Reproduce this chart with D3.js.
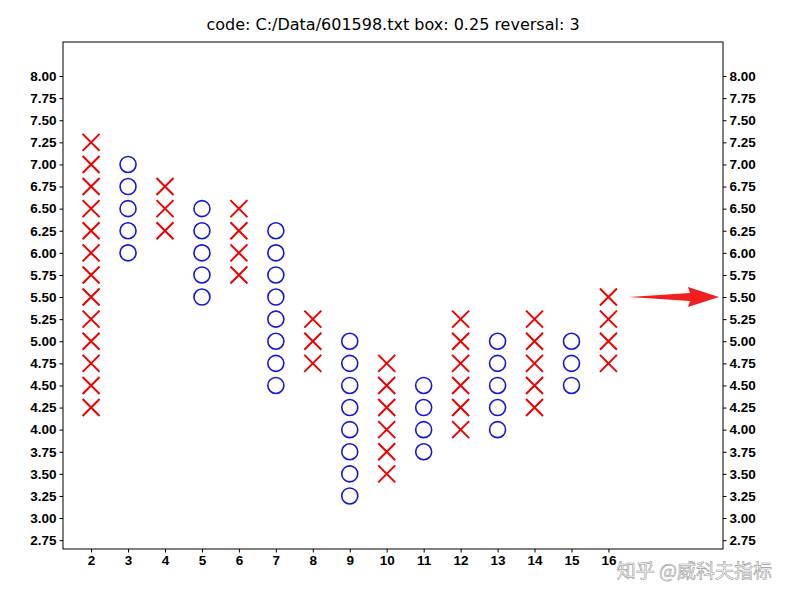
<!DOCTYPE html>
<html><head><meta charset="utf-8">
<script src="https://d3js.org/d3.v7.min.js"></script>
<style>body{margin:0;background:#fff}svg{font-family:"DejaVu Sans",sans-serif}</style>
</head><body><svg id="c" width="791" height="602"></svg>
<script>
// column index, type, low, high
var columns = [2,3,4,5,6,7,8,9,10,11,12,13,14,15,16];
var kinds   = ["X","O","X","O","X","O","X","O","X","O","X","O","X","O","X"];
var lows    = [4.25,6.00,6.25,5.50,5.75,4.50,4.75,3.25,3.50,3.75,4.00,4.00,4.25,4.50,4.75];
var highs   = [7.25,7.00,6.75,6.50,6.50,6.25,5.25,5.00,4.75,4.50,5.25,5.00,5.25,5.00,5.50];
var yTicks = d3.range(2.75, 8.01, 0.25);
var box = 0.25;

var svg = d3.select("#c");
var L = 63, R = 723, T = 42, B = 549;
var x = d3.scaleLinear().domain([1.24, 19.1]).range([L, R]);
var y = d3.scaleLinear().domain([2.65, 8.385]).range([B, T]);

svg.append("text").attr("x", (L + R) / 2).attr("y", 30).attr("text-anchor", "middle")
  .attr("font-size", 16).text("code: C:/Data/601598.txt box: 0.25 reversal: 3");

var fmt = d3.format(".2f");
svg.append("g").attr("transform", "translate(" + L + ",0)")
  .call(d3.axisLeft(y).tickValues(yTicks).tickFormat(fmt).tickSize(3.5));
svg.append("g").attr("transform", "translate(" + R + ",0)")
  .call(d3.axisRight(y).tickValues(yTicks).tickFormat(fmt).tickSize(3.5));
svg.append("g").attr("transform", "translate(0," + B + ")")
  .call(d3.axisBottom(x).tickValues(columns).tickFormat(d3.format("d")).tickSize(3.5));
svg.selectAll(".tick text").attr("font-size", 13.5).attr("font-weight", 600).attr("fill", "#000");
svg.selectAll(".domain").remove();
svg.append("rect").attr("x", L).attr("y", T).attr("width", R - L).attr("height", B - T)
  .attr("fill", "none").attr("stroke", "#000");

var h = 8.5;
columns.forEach(function(c, i) {
  var n = Math.round((highs[i] - lows[i]) / box);
  for (var k = 0; k <= n; k++) {
    var v = lows[i] + k * box, cx = x(c), cy = y(v);
    if (kinds[i] === "X") {
      svg.append("path").attr("d", "M" + (cx - h) + "," + (cy - h) + "L" + (cx + h) + "," + (cy + h) +
        "M" + (cx - h) + "," + (cy + h) + "L" + (cx + h) + "," + (cy - h))
        .attr("stroke", "#e00").attr("stroke-width", 2).attr("fill", "none");
    } else {
      svg.append("circle").attr("cx", cx).attr("cy", cy).attr("r", 8)
        .attr("stroke", "#1515e0").attr("stroke-width", 1.6).attr("fill", "none");
    }
  }
});

// arrow
var ay = y(5.5);
svg.append("path").attr("fill", "#f02020")
  .attr("d", "M629," + (ay) + "L690," + (ay - 4) + "L688," + (ay - 10) + "L719," + ay +
    "L688," + (ay + 10) + "L690," + (ay + 4) + "Z");

svg.append("text").attr("x", 772).attr("y", 578).attr("text-anchor", "end")
  .attr("font-family", "Noto Sans CJK SC").attr("font-size", 19)
  .attr("fill", "#fff").attr("stroke", "#999").attr("stroke-width", 0.6)
  .text("知乎 @威科夫指标");
</script></body></html>
